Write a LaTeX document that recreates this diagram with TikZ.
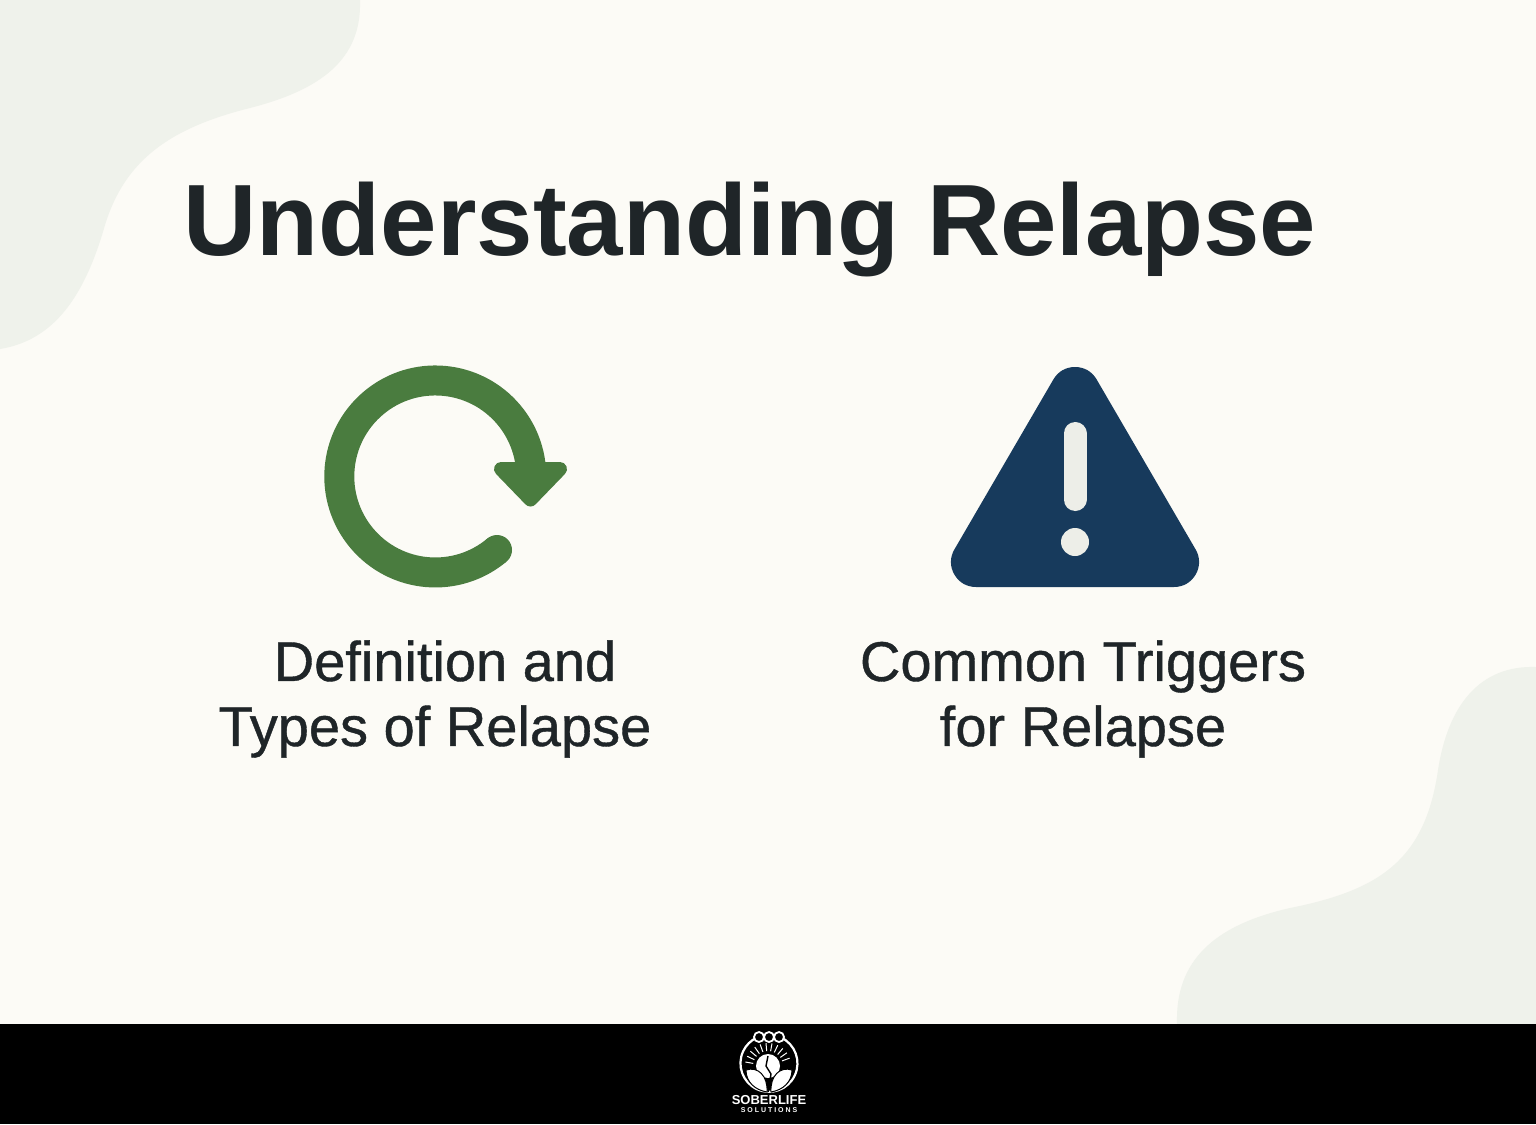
\documentclass[tikz,border=0pt]{standalone}
\usepackage{fontspec}
\setmainfont{Liberation Sans}
\newfontfamily\capfont[RawFeature={embolden=0.7}]{Liberation Sans}
\usetikzlibrary{positioning}
\definecolor{paper}{HTML}{FCFBF6}
\definecolor{blob}{HTML}{EFF2EB}
\definecolor{ink}{HTML}{1F2528}
\definecolor{leaf}{HTML}{4A7C3F}
\definecolor{navy}{HTML}{173A5C}
\definecolor{bang}{HTML}{EDEEE8}
\tikzset{
	headline/.style={font=\bfseries\fontsize{50.7}{60}\selectfont,text=ink,inner sep=0pt},
	caption/.style={font=\capfont\fontsize{28}{32.5}\selectfont,text=ink,align=center,inner sep=0pt},
	logotext/.style={text=white,inner sep=0pt}
}
\begin{document}
\begin{tikzpicture}[x=0.5pt,y=-0.5pt]
	\useasboundingbox (0,0) rectangle (1536,1124);
	\fill[paper] (0,0) rectangle (1536,1124);
	% corner blobs
	\fill[blob] (0,0) -- (360,0) .. controls (362,60) and (320,90) .. (250,108) .. controls (170,128) and (125,160) .. (105,225) .. controls (85,295) and (55,340) .. (0,349) -- cycle;
	\fill[blob] (1177,1024) .. controls (1175,960) and (1215,925) .. (1290,908) .. controls (1380,890) and (1425,860) .. (1438,770) .. controls (1448,705) and (1480,665) .. (1536,667) -- (1536,1024) -- cycle;
	\fill[black] (0,1024) rectangle (1536,1124);
	\node[headline,anchor=base] (title) at (750,255) {Understanding Relapse};
	% cycle icon
	\draw[leaf,line width=15pt] (497,550) arc (50:368:96);
	\fill[leaf] (497,550) circle (15);
	\fill[leaf,draw=leaf,line width=7pt,line join=round] (501,469) -- (560,469) -- (530.5,499.5) -- cycle;
	% warning icon
	\fill[navy,draw=navy,line width=25pt,line join=round] (1075,392) -- (976,562) -- (1174,562) -- cycle;
	\draw[bang,line width=11.5pt,line cap=round] (1075,433.5) -- (1075,499.5);
	\fill[bang] (1075,542) circle (14);
	\node[caption] (definition) at (435,699) {\hspace*{10pt}Definition and\\Types of Relapse};
	\node[caption] (triggers) at (1083,699) {Common Triggers\\for Relapse};
	% logo
	\draw[white,line width=1.1pt] (781,1037.5) arc (295:605:28.5);
	\foreach \ringx in {759,769,779}
		\draw[white,line width=0.9pt,fill=black] (\ringx,1037) circle (5);
	\foreach \rayangle in {190,205,...,350}
		\draw[white,line width=0.5pt] (768,1066) ++(\rayangle:15) -- ++(\rayangle:8);
	\fill[white] (768,1066) circle (12);
	\draw[black,line width=0.7pt] (768,1056) -- (766,1066) -- (771,1074) -- (768,1092);
	\fill[white,draw=black,line width=0.5pt] (746,1070) .. controls (758,1066) and (768,1076) .. (767,1092) .. controls (755,1090) and (746,1082) .. (746,1070) -- cycle;
	\fill[white,draw=black,line width=0.5pt] (792,1070) .. controls (780,1066) and (770,1076) .. (771,1092) .. controls (783,1090) and (792,1082) .. (792,1070) -- cycle;
	\node[logotext,font=\bfseries\fontsize{6.5}{8}\selectfont] (brand) at (769,1100) {SOBERLIFE};
	\node[logotext,font=\bfseries\fontsize{3.5}{4}\selectfont,below=1.2pt of brand] (brandsub) {S O L U T I O N S};
\end{tikzpicture}
\end{document}
